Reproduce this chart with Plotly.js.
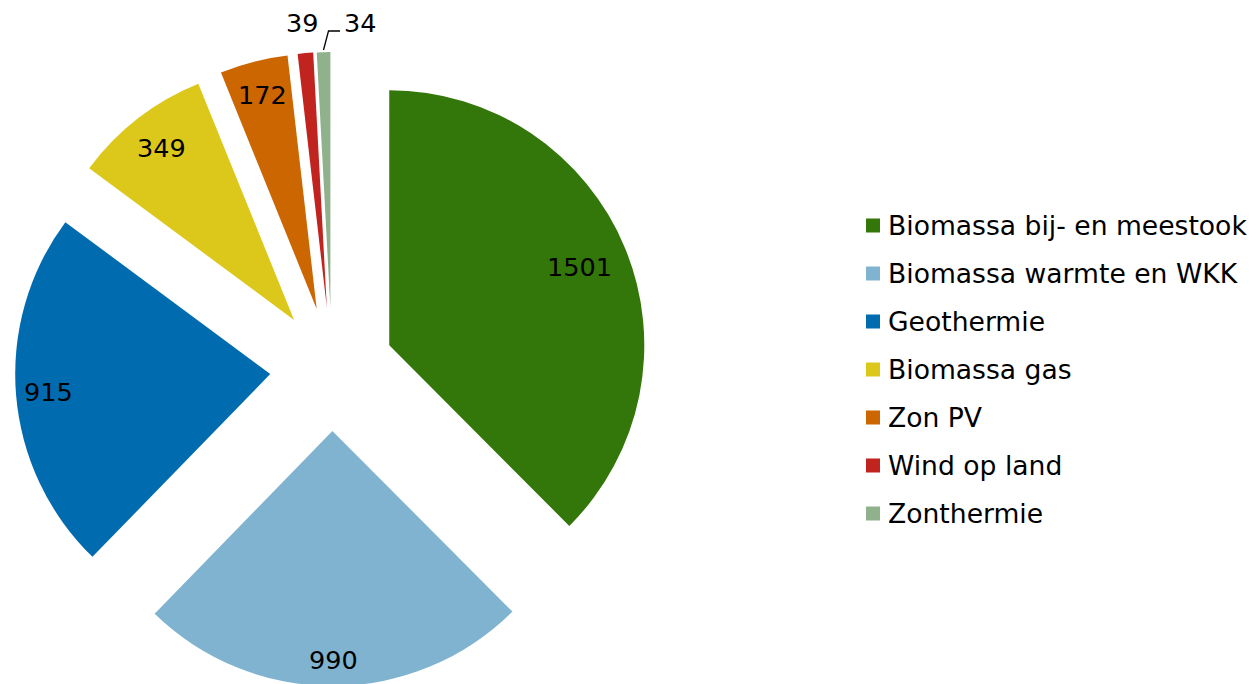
<!DOCTYPE html>
<html>
<head>
<meta charset="utf-8">
<script src="https://cdn.plot.ly/plotly-3.0.1.min.js"></script>
<style>
  html, body { margin: 0; padding: 0; background: #fff; overflow: hidden; }
  #chart { width: 1257px; height: 686px; }
</style>
</head>
<body>
<div id="chart"></div>
<script>
// ---- data ----
const categories = [
  "Biomassa bij- en meestook",
  "Biomassa warmte en WKK",
  "Geothermie",
  "Biomassa gas",
  "Zon PV",
  "Wind op land",
  "Zonthermie"
];
const values = [1501, 990, 915, 349, 172, 39, 34];
const colors = ["#337609", "#7FB3CF", "#006BAE", "#DCC81B", "#CC6600", "#C1231F", "#8FB18B"];

// ---- layout constants ----
const W = 1257, H = 686;
const M = { l: 15, r: 0, t: 52, b: 0 };
const plotW = W - M.l - M.r, plotH = H - M.t - M.b;
const pull = 0.243;
const domSize = plotH;                 // square domain
const domainX = [0, domSize / plotW];
const cx = M.l + domSize / 2, cy = M.t + domSize / 2;
const R = (domSize / 2) / (1 + pull);
const FONT = "DejaVu Sans, Verdana, sans-serif";

const px2x = px => (px - M.l) / plotW;
const py2y = py => (H - M.b - py) / plotH;

// radial position (fraction of radius beyond the pull offset) of inside labels
const insideLabelRadius = [0.807, 0.898, 0.871, 0.851, 0.867];

const total = values.reduce((a, b) => a + b, 0);
const annotations = [];
const shapes = [];

let cum = 0;
values.forEach((v, i) => {
  const mid = (cum + v / 2) / total * 2 * Math.PI;
  cum += v;
  if (i < insideLabelRadius.length) {
    const rr = (pull + insideLabelRadius[i]) * R;
    const x = cx + rr * Math.sin(mid);
    const y = cy - rr * Math.cos(mid);
    annotations.push({
      xref: "paper", yref: "paper", x: px2x(x), y: py2y(y),
      xanchor: "center", yanchor: "middle", showarrow: false,
      text: String(v), font: { family: FONT, size: 25.5, color: "#000" }
    });
  }
});

// outside labels for the two thin slices
annotations.push({
  xref: "paper", yref: "paper", x: px2x(302), y: py2y(23),
  xanchor: "center", yanchor: "middle", showarrow: false,
  text: String(values[5]), font: { family: FONT, size: 25.5, color: "#000" }
});
annotations.push({
  xref: "paper", yref: "paper", x: px2x(360), y: py2y(23),
  xanchor: "center", yanchor: "middle", showarrow: false,
  text: String(values[6]), font: { family: FONT, size: 25.5, color: "#000" }
});
shapes.push({
  type: "path", xref: "paper", yref: "paper",
  path: `M${px2x(323.5)},${py2y(50)} L${px2x(328.5)},${py2y(31)} L${px2x(340)},${py2y(31)}`,
  line: { color: "#000", width: 1.3 }
});

// legend
categories.forEach((c, i) => {
  const yc = 225.5 + 48 * i;
  shapes.push({
    type: "rect", xref: "paper", yref: "paper",
    x0: px2x(866), x1: px2x(880), y0: py2y(yc - 7), y1: py2y(yc + 7),
    fillcolor: colors[i], line: { width: 0 }
  });
  annotations.push({
    xref: "paper", yref: "paper", x: px2x(886), y: py2y(yc),
    xanchor: "left", yanchor: "middle", showarrow: false,
    text: c, font: { family: FONT, size: 26.6, color: "#000" }
  });
});

const trace = {
  type: "pie",
  labels: categories,
  values: values,
  sort: false,
  direction: "clockwise",
  rotation: 0,
  pull: values.map(() => pull),
  marker: { colors: colors, line: { width: 0 } },
  textinfo: "none",
  hoverinfo: "label+value",
  domain: { x: domainX, y: [0, 1] },
  showlegend: false
};

const layout = {
  width: W, height: H,
  margin: M,
  paper_bgcolor: "#fff",
  plot_bgcolor: "#fff",
  showlegend: false,
  font: { family: FONT },
  annotations: annotations,
  shapes: shapes
};

Plotly.newPlot("chart", [trace], layout, { displayModeBar: false, staticPlot: true });
</script>
</body>
</html>
